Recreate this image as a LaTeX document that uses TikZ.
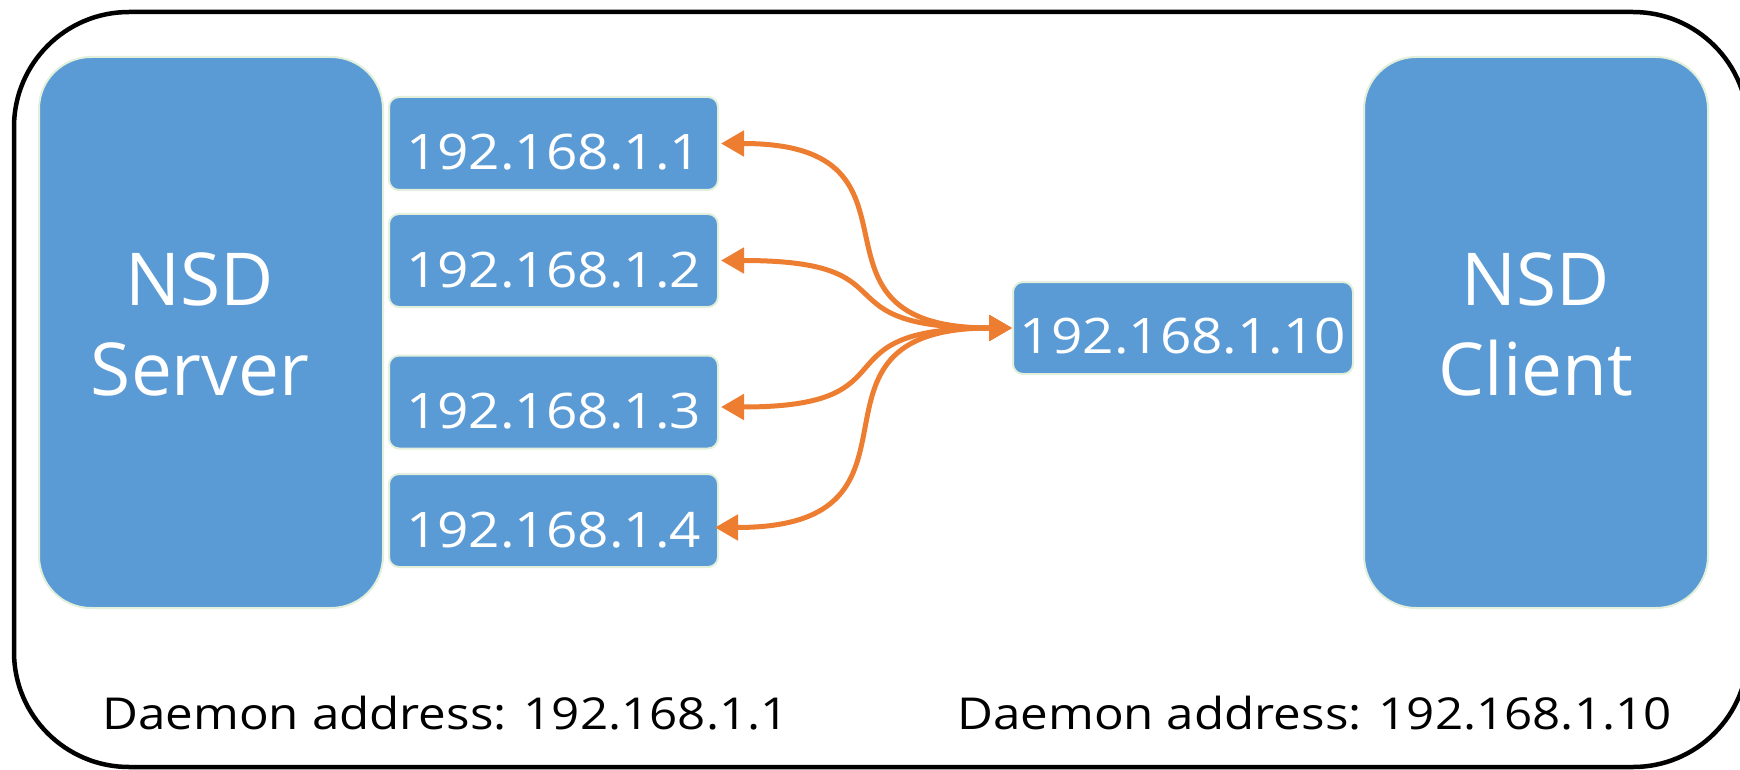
\documentclass[tikz,border=0pt]{standalone}
\usepackage{fontspec}
\usetikzlibrary{arrows.meta}
\newfontfamily\dfont{Open Sans}[FakeStretch=1.12]
\newfontfamily\bfont{Open Sans}
\definecolor{nsdblue}{HTML}{5B9BD5}
\definecolor{boxedge}{HTML}{E2EFDA}
\definecolor{arrowc}{HTML}{ED7D31}
\tikzset{
  bigbox/.style={draw=boxedge, line width=2pt, fill=nsdblue, rounded corners=52pt,
    minimum width=344pt, minimum height=551pt, inner sep=0pt},
  bigtext/.style={text=white, align=center, inner sep=0pt,
    font=\bfont\fontsize{73}{90}\selectfont},
  ipbox/.style={draw=boxedge, line width=2pt, fill=nsdblue, rounded corners=10pt,
    minimum width=329pt, inner sep=0pt, text height=73pt, text depth=20pt,
    text=white, font=\dfont\fontsize{49}{58}\selectfont},
  daemon/.style={anchor=base, inner sep=0pt, text=black,
    font=\dfont\fontsize{44}{52}\selectfont},
  link/.style={draw=arrowc, line width=5pt,
    {Triangle[length=23pt,width=25pt]}-{Triangle[length=23pt,width=25pt]}},
  frame/.style={draw=black, line width=4.5pt, rounded corners=115pt}
}
\begin{document}
\begin{tikzpicture}[x=1pt,y=-1pt]
\useasboundingbox (0,0) rectangle (1740,770);
\draw[frame] (14,12) rectangle (1748,767);
% big boxes
\node[bigbox] (srv) at (211,332.5) {};
\node[bigtext] (srvtext) at (200,324) {NSD\\Server};
\node[bigbox] (cli) at (1536,332.5) {};
\node[bigtext] (clitext) at (1536,324) {NSD\\Client};
% server addresses
\node[ipbox] (ip1) at (553.5,143.5) {192.168.1.1};
\node[ipbox] (ip2) at (553.5,260.5) {192.168.1.2};
\node[ipbox] (ip3) at (553.5,402) {192.168.1.3};
\node[ipbox] (ip4) at (553.5,520.5) {192.168.1.4};
% client address
\node[ipbox, minimum width=340pt, text depth=21pt, text height=71pt] (cip) at (1183,328) {192.168.1.10};
% links
\draw[link, shorten >=2pt] (cip.west) to[out=180,in=0,looseness=1.7] (ip1.east);
\draw[link, shorten >=2pt] (cip.west) to[out=180,in=0,looseness=1.7] (ip2.east);
\draw[link, shorten >=2pt] (cip.west) to[out=180,in=0,looseness=1.7] ([yshift=-5pt]ip3.east);
\draw[link, shorten >=-4pt] (cip.west) to[out=180,in=0,looseness=1.7] ([yshift=-7pt]ip4.east);
% daemon addresses
\node[daemon] (dsrv) at (445.5,729) {Daemon address: 192.168.1.1};
\node[daemon] (dcli) at (1314.5,729) {Daemon address: 192.168.1.10};
\end{tikzpicture}
\end{document}
